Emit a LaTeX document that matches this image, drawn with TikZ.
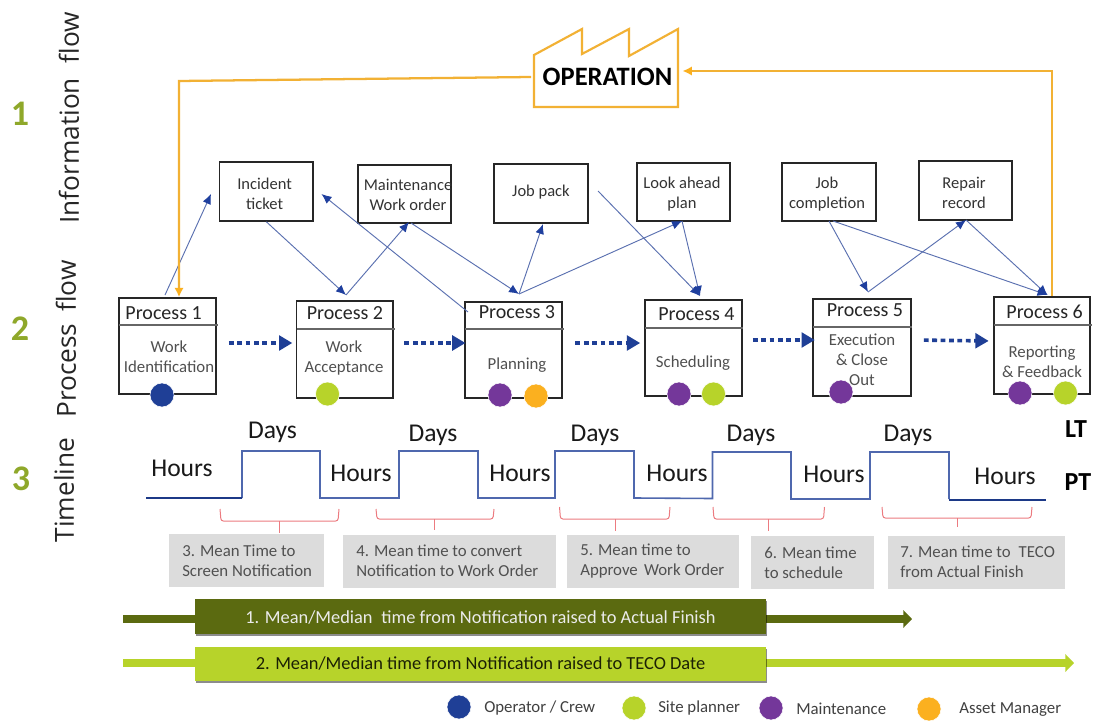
\documentclass[tikz,border=0pt]{standalone}
\usepackage{fontspec}
\setmainfont{Carlito}
\newfontfamily\sidefont{Open Sans}
\usetikzlibrary{arrows.meta,fit,shadows}
\definecolor{orangeline}{HTML}{F2B134}
\definecolor{orangedot}{HTML}{FBB01F}
\definecolor{linkblue}{HTML}{5A70B0}
\definecolor{headblue}{HTML}{1F3F9E}
\definecolor{dotblue}{HTML}{1F3F96}
\definecolor{limegreen}{HTML}{B7D32A}
\definecolor{olivegreen}{HTML}{5B6A10}
\definecolor{purpledot}{HTML}{74379A}
\definecolor{numgreen}{HTML}{8FA82A}
\definecolor{stepblue}{HTML}{4F68AE}
\definecolor{bracered}{HTML}{EC7B80}
\definecolor{greybox}{HTML}{DCDCDC}
\definecolor{bodygrey}{HTML}{505050}
\tikzset{
  x=0.75pt,y=-0.75pt,
  pbox/.style={draw=black!85,line width=1.2pt,inner sep=0pt},
  ibox/.style={draw=black!85,line width=1.1pt,inner sep=0pt},
  gbox/.style={fill=greybox,inner sep=0pt},
  divider/.style={draw=black!60,line width=0.8pt},
  ptitle/.style={font=\fontsize{15}{18}\selectfont,text=black!85,inner sep=0pt},
  pbody/.style={font=\fontsize{12.6}{15}\selectfont,text=bodygrey,align=center,inner sep=0pt},
  itext/.style={font=\fontsize{12.4}{15}\selectfont,text=black!80,align=center,inner sep=0pt},
  gtext/.style={font=\fontsize{12.6}{15}\selectfont,text=bodygrey,align=left,anchor=west,inner sep=0pt},
  tlabel/.style={font=\fontsize{19.2}{22}\selectfont,text=black!90,inner sep=0pt},
  sidelabel/.style={font=\sidefont\fontsize{19.7}{22}\selectfont,text=black!85,rotate=90,inner sep=0pt},
  numlabel/.style={font=\bfseries\fontsize{27}{30}\selectfont,text=numgreen,inner sep=0pt},
  ltlabel/.style={font=\bfseries\fontsize{19.5}{22}\selectfont,text=black,inner sep=0pt},
  legtext/.style={font=\fontsize{12.6}{14}\selectfont,text=black!75,anchor=west,inner sep=0pt},
  dot/.style={circle,minimum size=18pt,inner sep=0pt,draw=white,line width=0.4pt,fill=#1},
  link/.style={draw=linkblue,line width=0.7pt,-{Latex[length=7.5pt,width=6.5pt,color=headblue]}},
  oline/.style={draw=orangeline,line width=1.7pt,-{Latex[length=7pt,width=7pt,color=orangedot]}},
  flowdash/.style={draw=dotblue,line width=2.7pt,dash pattern=on 3.6pt off 2.7pt,-{Triangle[length=10pt,width=11pt,color=dotblue]}},
  timeline/.style={draw=stepblue,line width=1.2pt},
  timeend/.style={draw=dotblue!90!black,line width=1.7pt},
  bracket/.style={draw=bracered,line width=0.75pt,rounded corners=1.8pt},
  bar/.style={inner sep=0pt,drop shadow={shadow xshift=0.8pt,shadow yshift=-1.5pt,opacity=0.45,fill=black}},
  bararrow/.style={line width=6.5pt,-{Triangle[length=6.5pt,width=13pt,color=#1]},draw=#1}
}
\begin{document}
\begin{tikzpicture}
\path[fill=white,use as bounding box] (0,0) rectangle (1094,720);

% side labels
\node[numlabel] (n1) at (20,114) {1};
\node[numlabel] (n2) at (20,329) {2};
\node[numlabel] (n3) at (21,479) {3};
\node[sidelabel] (s1) at (69,118) {Information\hspace{0.55em}flow};
\node[sidelabel] (s2) at (66,339) {Process\hspace{0.2em} flow};
\node[sidelabel] (s3) at (64,490) {Timeline};

% operation factory
\draw[orangeline,line width=1.6pt,line join=miter] (534,55) -- (582,29) -- (582,54) -- (629,29) -- (629,56) -- (678,29) -- (678,107) -- (534,107) -- cycle;
\node[font=\bfseries\fontsize{19.9}{22}\selectfont,text=black,inner sep=0pt] (op) at (607.5,77) {OPERATION};
\coordinate (opw) at (531,77);
\coordinate (ope) at (682.5,71);
\coordinate (opc1) at (179,81);
\coordinate (opc2) at (1052,71);

% information boxes
\node[ibox,fit={(219.6,162) (313,221)}] (inc) {};
\node[ibox,fit={(358,165) (451,223)}] (mwo) {};
\node[ibox,fit={(494,164) (588,223)}] (jp) {};
\node[ibox,fit={(637,163) (730,221)}] (lap) {};
\node[ibox,fit={(782,163) (876,221)}] (jc) {};
\node[ibox,fit={(919,161) (1012,220)}] (rr) {};
\node[itext] (inct) at (264.6,194) {Incident\\ticket};
\node[itext] (mwot) at (408,195) {Maintenance\\Work order};
\node[itext] (jpt) at (541,192) {Job pack};
\node[itext] (lapt) at (682,194.5) {Look ahead\\plan};
\node[itext] (jct) at (827,194.5) {Job\\completion};
\node[itext] (rrt) at (964,193) {Repair\\record};

% process boxes
\node[pbox,fit={(119,298) (216,394)}] (p1) {};
\node[pbox,fit={(296.5,301) (393,398)}] (p2) {};
\node[pbox,fit={(465,302) (562,398)}] (p3) {};
\node[pbox,fit={(645,300) (742,396)}] (p4) {};
\node[pbox,fit={(813,299) (911,396)}] (p5) {};
\node[pbox,fit={(994,297) (1090,394)}] (p6) {};
\draw[divider] (119,325) -- (218,325);
\draw[divider] (296.5,329) -- (395,329);
\draw[divider] (465,329) -- (564,329);
\draw[divider] (645,328) -- (743,328);
\draw[divider] (813,327) -- (912,327);
\draw[divider] (994,325) -- (1092,325);
\node[ptitle] (p1t) at (163.6,313) {Process 1};
\node[ptitle] (p2t) at (345,313) {Process 2};
\node[ptitle] (p3t) at (517,312) {Process 3};
\node[ptitle] (p4t) at (696.5,314) {Process 4};
\node[ptitle] (p5t) at (865,310) {Process 5};
\node[ptitle] (p6t) at (1044.6,312) {Process 6};
\node[pbody] (p1b) at (169,357) {Work\\Identification};
\node[pbody] (p2b) at (344,358) {Work\\Acceptance};
\node[pbody] (p3b) at (517,365) {Planning};
\node[pbody] (p4b) at (693,363) {Scheduling};
\node[pbody] (p5b) at (862,360) {Execution\\\& Close\\Out};
\node[pbody] (p6b) at (1042,362) {Reporting\\\& Feedback};

% role dots
\node[dot=dotblue] (d1) at (162,395) {};
\node[dot=limegreen] (d2) at (327.5,394) {};
\node[dot=purpledot] (d3a) at (500,395) {};
\node[dot=orangedot] (d3b) at (536,396) {};
\node[dot=purpledot] (d4a) at (679,394) {};
\node[dot=limegreen] (d4b) at (713.5,394) {};
\node[dot=purpledot] (d5) at (841,392) {};
\node[dot=purpledot] (d6a) at (1020,393) {};
\node[dot=limegreen] (d6b) at (1065.5,393) {};

% free ends of the information links
\coordinate (c1s) at (165,295);
\coordinate (c1e) at (211,194);
\coordinate (c2) at (346,295);
\coordinate (c3) at (409,222);
\coordinate (c3s) at (468,312);
\coordinate (c3e) at (321.5,194);
\coordinate (c4) at (411,223);
\coordinate (c5) at (519,294);
\coordinate (c6) at (543,224);
\coordinate (c7) at (682,221);
\coordinate (c8) at (598,191);
\coordinate (c9) at (700,296);
\coordinate (c10) at (829,221);
\coordinate (c11) at (868,292);
\coordinate (c12) at (833,221);
\coordinate (c13) at (1047.5,295);
\coordinate (c14) at (966,220);

\draw[link] (c1s) -- (c1e);
\draw[link] (inc.south) -- (c2);
\draw[link] (c2) -- (c3);
\draw[link] (c3s) -- (c3e);
\draw[link] (c4) -- (c5);
\draw[link] (c5) -- (c6);
\draw[link] (c5) -- (c7);
\draw[link] (c8) -- (c9);
\draw[link] (c7) -- (c9);
\draw[link] (c10) -- (c11);
\draw[link] (c12) -- (c13);
\draw[link] (c11) -- (c14);
\draw[link] (c14) -- (c13);

% orange loop
\draw[oline] (opw) -- (opc1) -- (p1.north -| opc1);
\draw[oline] (p6.north -| opc2) -- (opc2) -- (ope);

% dotted flow arrows
\draw[flowdash,shorten <=9pt,shorten >=2.5pt] ([shift={(0,-3)}]p1.east) -- ([shift={(0,-6.5)}]p2.west);
\draw[flowdash,shorten <=8pt,shorten >=-1pt] ([shift={(0,-6.5)}]p2.west -| p2.east) -- ([shift={(0,-7)}]p3.west);
\draw[flowdash,shorten <=9.5pt,shorten >=3pt] ([shift={(0,-7)}]p3.east) -- ([shift={(0,-5)}]p4.west);
\draw[flowdash,shorten <=7.5pt,shorten >=-2pt] ([shift={(0,-8)}]p4.east) -- ([shift={(0,-7.5)}]p5.west);
\draw[flowdash,shorten <=9pt,shorten >=3.4pt] ([shift={(0,-7.5)}]p5.east) -- ([shift={(0,-4.5)}]p6.west);

% timeline
\draw[timeline,line join=miter] (242,498) -- (242,451) -- (320,451) -- (320,498) -- (399,498) -- (399,451) -- (478,451) -- (478,498) -- (555,498) -- (555,451) -- (634,451) -- (634,498) -- (712.5,498.5) -- (712.5,452) -- (791,452) -- (791,499) -- (870,499) -- (870,452) -- (949,452) -- (949,499);
\draw[timeend] (146,498) -- (242,498);
\draw[timeend] (949,500) -- (1046,500);
\node[tlabel] (h1) at (182,468) {Hours};
\node[tlabel] (h2) at (361,473) {Hours};
\node[tlabel] (h3) at (520,473) {Hours};
\node[tlabel] (h4) at (677,473) {Hours};
\node[tlabel] (h5) at (834,474) {Hours};
\node[tlabel] (h6) at (1005,476) {Hours};
\node[tlabel] (dd1) at (272.5,432) {Days};
\node[tlabel] (dd2) at (433,435) {Days};
\node[tlabel] (dd3) at (595,435) {Days};
\node[tlabel] (dd4) at (751,435) {Days};
\node[tlabel] (dd5) at (908,435) {Days};
\node[ltlabel] (lt) at (1076,429) {LT};
\node[ltlabel] (pt) at (1078,482) {PT};

% brackets
\draw[bracket] (220,509) -- (221,521) -- (279,521) -- (338,521) -- (339,509);
\draw[bracket] (376,509) -- (377,519) -- (493,519) -- (494,509);
\draw[bracket] (559.5,507) -- (560.5,519) -- (669,519) -- (670,507);
\draw[bracket] (713,507) -- (714,519) -- (823.5,519) -- (824.5,507);
\draw[bracket] (882,507) -- (883,518) -- (1031,518) -- (1032,507);
\draw[bracket,rounded corners=0pt] (279,521) -- (279,533);
\draw[bracket,rounded corners=0pt] (434,519) -- (434,530);
\draw[bracket,rounded corners=0pt] (615,519) -- (615,531);
\draw[bracket,rounded corners=0pt] (768,519) -- (768,531);
\draw[bracket,rounded corners=0pt] (957,518) -- (957,527);

% grey boxes
\node[gbox,fit={(169,534) (324,587)}] (g3) {};
\node[gbox,fit={(343,535) (556,588)}] (g4) {};
\node[gbox,fit={(567,535) (739,588)}] (g5) {};
\node[gbox,fit={(751,536) (874,589)}] (g6) {};
\node[gbox,fit={(888,536) (1065,589)}] (g7) {};
\node[gtext] (g3t) at (182,561) {3. Mean Time to\\Screen Notification};
\node[gtext] (g4t) at (356,561) {4. Mean time to convert\\Notification to Work Order};
\node[gtext] (g5t) at (580,561) {5. Mean time to\\Approve\hspace{0.15em} Work Order};
\node[gtext] (g6t) at (764,563) {6. Mean time\\to schedule};
\node[gtext] (g7t) at (900,562) {7. Mean time to\hspace{0.25em} TECO\\from Actual Finish};

% long bars
\coordinate (b1s) at (123,619);
\coordinate (b1e) at (912,619);
\coordinate (b2s) at (123,663);
\coordinate (b2e) at (1074,663);
\draw[bararrow=olivegreen] (b1s) -- (b1e);
\draw[bararrow=limegreen] (b2s) -- (b2e);
\node[bar,fill=olivegreen,fit={(195,599) (766,634)}] (bar1) {};
\node[bar,fill=limegreen,fit={(195,647) (766,681)}] (bar2) {};
\node[font=\fontsize{13.8}{15}\selectfont,text=white!92!black,inner sep=0pt] (bar1t) at (480.5,617) {1. Mean/Median\hspace{0.25em} time from Notification raised to Actual Finish};
\node[font=\fontsize{13.8}{15}\selectfont,text=black!70!olivegreen,inner sep=0pt] (bar2t) at (480.5,663) {2. Mean/Median time from Notification raised to TECO Date};

% legend
\node[dot=dotblue] (l1) at (459,707) {};
\node[dot=limegreen] (l2) at (634,708) {};
\node[dot=purpledot] (l3) at (771,708) {};
\node[dot=orangedot] (l4) at (929,709) {};
\node[legtext] (l1t) at (484,708) {Operator / Crew};
\node[legtext] (l2t) at (658,708) {Site planner};
\node[legtext] (l3t) at (796,709) {Maintenance};
\node[legtext] (l4t) at (959,709.5) {Asset Manager};
\end{tikzpicture}
\end{document}
